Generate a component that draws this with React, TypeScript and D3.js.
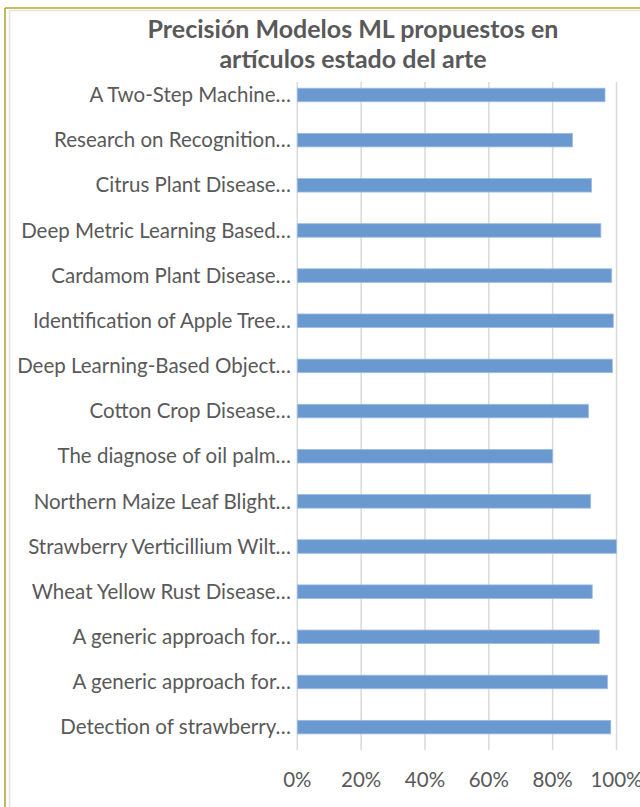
import React from "react";
import * as d3 from "d3";

const categories = [
  "A Two-Step Machine…",
  "Research on Recognition…",
  "Citrus Plant Disease…",
  "Deep Metric Learning Based…",
  "Cardamom Plant Disease…",
  "Identification of Apple Tree…",
  "Deep Learning-Based Object…",
  "Cotton Crop Disease…",
  "The diagnose of oil palm…",
  "Northern Maize Leaf Blight…",
  "Strawberry Verticillium Wilt…",
  "Wheat Yellow Rust Disease…",
  "A generic approach for…",
  "A generic approach for…",
  "Detection of strawberry…",
];

const precision = [0.964, 0.862, 0.922, 0.951, 0.985, 0.99, 0.987, 0.912, 0.8, 0.919, 1.0, 0.924, 0.946, 0.972, 0.982];

const xTicks = [0, 0.2, 0.4, 0.6, 0.8, 1.0];

const titleLines = ["Precisión Modelos ML propuestos en", "artículos estado del arte"];

const W = 640;
const H = 807;
const FONT = "Lato, 'Open Sans', sans-serif";
const TEXT = "#595959";

export default function App() {
  const x = d3.scaleLinear().domain([0, 1]).range([297.3, 616.5]);
  const y = d3
    .scaleBand<number>()
    .domain(d3.range(categories.length))
    .range([72.4, 749.7])
    .paddingInner(0.7)
    .paddingOuter(0.35);
  const gridTop = 82;
  const gridBottom = 750;
  const fmt = d3.format(".0%");

  return (
    <svg
      width={W}
      height={H}
      style={{ position: "absolute", left: 0, top: 0, background: "#fff" }}
    >
      {/* frame */}
      <line x1={5} y1={8} x2={W} y2={8} stroke="#B5A82E" strokeWidth={1.6} />
      <line x1={5} y1={8} x2={5} y2={H} stroke="#B5A82E" strokeWidth={1.6} />
      <line x1={9.5} y1={10.5} x2={W} y2={10.5} stroke="#E3E3E3" strokeWidth={1.5} />
      <line x1={9.5} y1={10.5} x2={9.5} y2={H} stroke="#E3E3E3" strokeWidth={1.5} />

      {/* title */}
      {titleLines.map((t, i) => (
        <text
          key={i}
          x={353}
          y={38 + i * 30}
          textAnchor="middle"
          fontFamily={FONT}
          fontWeight={700}
          fontSize={25}
          fill={TEXT}
        >
          {t}
        </text>
      ))}

      {/* gridlines */}
      {xTicks.map((t) => (
        <line
          key={t}
          x1={x(t)}
          x2={x(t)}
          y1={gridTop}
          y2={gridBottom}
          stroke="#D9D9D9"
          strokeWidth={1.5}
        />
      ))}

      {/* bars */}
      {precision.map((v, i) => (
        <rect
          key={i}
          x={x(0)}
          y={y(i)!}
          width={x(v) - x(0)}
          height={y.bandwidth()}
          fill="#6A99D0"
          stroke="#9CBDE4"
          strokeWidth={0.8}
        />
      ))}

      {/* category labels */}
      {categories.map((c, i) => (
        <text
          key={i}
          x={291}
          y={y(i)! + y.bandwidth() / 2}
          dy="0.35em"
          textAnchor="end"
          fontFamily={FONT}
          fontSize={20.5}
          fill={TEXT}
        >
          {c}
        </text>
      ))}

      {/* x tick labels */}
      {xTicks.map((t) => (
        <text
          key={t}
          x={x(t)}
          y={787}
          textAnchor="middle"
          fontFamily={FONT}
          fontSize={20.5}
          fill={TEXT}
        >
          {fmt(t)}
        </text>
      ))}
    </svg>
  );
}
